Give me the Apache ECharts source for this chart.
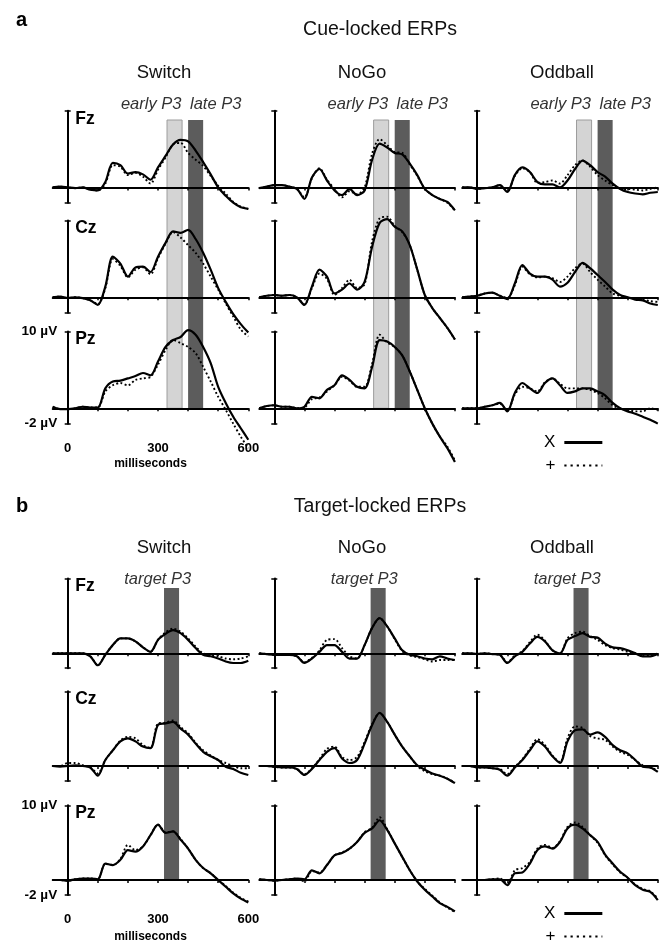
<!DOCTYPE html>
<html><head><meta charset="utf-8"><title>Cue- and target-locked ERPs</title>
<script src="https://cdn.jsdelivr.net/npm/echarts@6.0.0/dist/echarts.min.js"></script>
<style>html,body{margin:0;padding:0;background:#fff;}#chart{width:667px;height:944px;}</style>
</head><body><div id="chart"></div>
<script>
// ---------------- data ----------------
const times = [-50,-25,0,25,50,75,100,125,150,175,200,225,250,275,300,325,350,375,400,425,450,475,500,525,550,575,600];

// Cue-locked (X = solid, Plus = dotted), values in µV
const cueSwitchFzX    = [0,0.1,0,-0.1,0,-0.3,-0.4,0.7,3.2,2.9,1.8,2.0,1.7,1.0,2.6,4.1,5.6,6.2,6.0,4.8,3.3,1.7,0.0,-1.1,-2.0,-2.6,-2.8];
const cueSwitchFzPlus = [0,0.1,0,-0.1,0,-0.3,-0.4,0.5,2.9,2.7,1.6,1.9,1.4,0.5,2.3,3.9,5.6,5.8,4.5,3.6,2.8,1.5,0.2,-0.8,-1.9,-2.5,-2.8];
const cueSwitchCzX    = [0,0.1,-0.1,0,-0.1,-0.4,-1.0,1.4,5.3,4.4,2.7,3.9,4.0,3.3,5.3,7.1,8.6,8.4,8.8,7.6,5.8,3.6,1.2,-0.6,-2.2,-3.5,-4.6];
const cueSwitchCzPlus = [0,0.1,-0.1,0,-0.1,-0.4,-0.9,1.2,5.0,4.1,2.6,3.6,3.9,3.0,5.1,7.0,8.5,7.8,6.8,5.8,4.4,2.7,1.0,-0.8,-2.5,-4.2,-5.1];
const cueSwitchPzX    = [0.2,-0.1,-0.1,0,0.2,0.1,0.1,2.6,3.5,3.6,3.9,4.2,4.6,4.3,6.1,8.0,8.9,9.3,10.2,9.6,8.0,5.9,2.8,0.7,-1.1,-2.6,-4.1];
const cueSwitchPzPlus = [0.2,-0.1,-0.1,0,0.2,0.1,0.1,2.2,3.0,3.3,3.0,3.7,3.9,4.1,5.7,7.6,8.9,8.5,8.0,7.2,5.4,3.5,1.5,-0.2,-2.0,-3.7,-5.2];

const cueNoGoFzX    = [-0.1,0.1,0.3,0.3,0.1,-0.2,-1.5,1.3,2.4,0.9,-0.4,-1.0,-0.2,-1.0,-0.4,3.6,5.7,5.2,4.5,4.3,3.1,1.6,-0.2,-1.0,-1.5,-1.9,-3.0];
const cueNoGoFzPlus = [-0.1,0.1,0.3,0.3,0.1,-0.2,-1.3,1.2,2.5,1.0,-0.2,-1.3,-0.5,-0.9,0.0,4.4,6.3,5.5,4.6,4.5,3.0,1.5,-0.2,-1.0,-1.5,-2.0,-3.0];
const cueNoGoCzX    = [0,0.2,0.3,0.2,0.3,0,-1.0,1.4,3.6,2.7,0.5,1.0,1.8,1.0,2.0,6.6,9.7,10.2,9.2,8.6,6.8,3.6,0.3,-1.4,-2.7,-4.0,-5.5];
const cueNoGoCzPlus = [0,0.2,0.3,0.2,0.3,0,-0.9,1.2,3.1,2.4,0.3,1.2,2.3,1.2,1.7,7.3,10.3,10.5,9.3,8.5,6.8,3.6,0.3,-1.4,-2.7,-4.0,-5.5];
const cueNoGoPzX    = [0,0.3,0.4,0.2,0.2,0,0.2,1.5,1.3,2.4,3.0,4.3,3.7,2.8,2.6,5.4,8.9,8.7,8.0,6.9,4.8,2.4,0.0,-2.0,-3.7,-5.2,-7.0];
const cueNoGoPzPlus = [0,0.3,0.4,0.2,0.2,0,0.1,1.2,1.4,2.2,3.0,4.1,3.6,2.8,2.8,5.8,9.6,8.6,8.0,6.9,4.8,2.4,0.0,-2.0,-3.7,-5.0,-6.8];

const cueOddballFzX    = [0,0,-0.2,-0.1,0,0.3,-0.6,1.6,2.6,2.0,0.7,0.4,0.4,0,0.9,2.4,3.5,2.9,2.0,1.4,0.5,-0.2,-0.6,-0.8,-0.9,-0.7,-0.6];
const cueOddballFzPlus = [0,0,-0.2,-0.1,0,0.3,-0.5,1.5,2.5,2.0,0.6,0.7,0.9,0.5,1.6,2.9,3.5,2.7,1.6,0.9,0.3,-0.2,-0.2,-0.3,-0.4,-0.2,0];
const cueOddballCzX    = [0,0.1,0.2,0.5,0.6,0.2,-0.2,1.8,4.2,3.1,2.7,2.7,2.3,1.4,1.9,3.3,4.5,3.8,2.9,2.0,1.0,0.3,0,-0.3,-0.4,-0.8,-1.0];
const cueOddballCzPlus = [0,0.1,0.2,0.5,0.6,0.2,-0.1,1.6,4.0,3.0,2.6,2.7,2.5,2.0,2.7,3.8,4.4,3.3,2.3,1.4,0.5,0.2,0,-0.2,-0.3,-0.5,-0.6];
const cueOddballPzX    = [0,0,0,0.2,0.4,0.7,-0.4,2.0,3.3,2.6,2.0,3.3,3.9,3.0,2.0,2.2,2.6,2.6,2.2,1.7,0.7,0,-0.4,-0.7,-1.1,-1.5,-2.0];
const cueOddballPzPlus = [0,0,0,0.2,0.4,0.6,-0.3,1.8,2.8,2.6,2.2,3.4,3.9,3.2,2.6,2.6,2.6,2.4,2.0,1.3,0.4,0,-0.2,-0.4,-0.4,0,-0.2];

// Target-locked
const tgtSwitchFzX    = [0,0,0,0,0,-0.4,-1.6,-0.2,1.1,2.0,2.0,1.6,0.8,0.2,1.8,2.6,3.1,2.7,1.8,0.7,-0.2,-0.4,-0.7,-1.1,-1.3,-1.3,-1.0];
const tgtSwitchFzPlus = [0,0,0,0,0,-0.4,-1.6,-0.2,1.1,2.0,2.0,1.6,0.8,0.2,1.8,2.8,3.3,2.9,2.0,0.9,0,-0.2,-0.4,-0.7,-0.8,-0.7,-0.4];
const tgtSwitchCzX    = [0,-0.1,0,0.1,0,-0.2,-1.3,0.8,2.1,3.3,3.7,3.3,2.6,2.4,5.5,5.7,5.9,5.0,4.2,3.0,1.9,1.3,0.8,-0.1,-0.4,-0.9,-1.2];
const tgtSwitchCzPlus = [0,0,0.4,0.4,0.1,-0.2,-1.0,0.8,2.1,3.4,3.9,3.7,2.8,2.4,5.7,5.8,6.1,5.2,4.4,3.1,2.1,1.4,0.8,0.4,0,-0.3,-0.3];
const tgtSwitchPzX    = [0,0,-0.1,0.1,0.2,0.2,0.1,2.2,2.0,2.7,4.0,3.8,4.5,6.0,7.4,6.3,6.5,5.4,4.2,2.7,1.6,0.9,0,-0.9,-1.8,-2.5,-3.0];
const tgtSwitchPzPlus = [0,0,-0.1,0.1,0.2,0.2,0.1,2.2,2.0,2.8,4.7,4.0,4.5,6.0,7.4,6.4,6.5,5.5,4.2,2.7,1.6,0.9,0,-0.8,-1.7,-2.4,-2.9];

const tgtNoGoFzX    = [0,-0.1,-0.2,-0.2,-0.2,-0.4,-1.3,-0.7,0.2,1.1,1.1,0.2,-0.7,-0.7,1.1,3.4,4.7,3.6,2.0,0.4,-0.2,-0.4,-0.7,-0.8,-0.4,-0.7,-0.9];
const tgtNoGoFzPlus = [0,-0.1,-0.2,-0.2,-0.2,-0.4,-1.2,-0.6,0.4,1.8,1.9,0.7,-0.4,-0.7,1.1,3.4,4.7,3.6,1.9,0.3,-0.3,-0.5,-0.8,-1.1,-0.9,-0.9,-0.9];
const tgtNoGoCzX    = [0,0,-0.1,-0.2,-0.2,-0.4,-1.2,-0.4,0.8,1.9,2.4,1.0,0.4,0.8,3.0,5.5,7.1,5.9,4.2,2.6,1.3,0.1,-0.5,-1.0,-1.3,-1.7,-2.3];
const tgtNoGoCzPlus = [0,0,-0.1,-0.2,-0.2,-0.4,-1.1,-0.3,0.9,2.3,2.6,1.2,0.8,1.2,3.2,5.6,7.1,5.9,4.2,2.6,1.3,0.0,-0.7,-1.1,-1.3,-1.7,-2.2];
const tgtNoGoPzX    = [0.1,0,-0.1,0,0.1,0.2,0.1,1.3,0.9,2.0,3.3,3.6,4.2,5.1,6.3,6.9,8.0,6.7,4.9,3.1,1.3,-0.2,-1.3,-2.2,-3.1,-3.6,-4.2];
const tgtNoGoPzPlus = [0.1,0,-0.1,0,0.1,0.2,-0.2,1.2,1.0,2.0,3.3,3.7,4.2,5.1,6.4,7.0,8.4,6.8,4.9,3.1,1.3,-0.2,-1.2,-2.1,-3.0,-3.7,-4.3];

const tgtOddballFzX    = [0,0,-0.1,0,-0.1,-0.2,-1.3,-0.4,0.2,1.3,2.2,1.6,0.4,0,1.8,2.3,2.7,2.2,2.1,1.3,0.8,0.7,0.4,0,-0.4,-0.4,-0.1];
const tgtOddballFzPlus = [0,0,-0.1,0,-0.1,-0.2,-1.2,-0.3,0.3,1.5,2.5,1.7,0.4,0,2.0,2.7,2.9,2.3,1.8,1.1,0.7,0.5,0.2,0,-0.2,-0.3,0];
const tgtOddballCzX    = [0,0,-0.2,-0.2,-0.3,-0.5,-1.3,-0.2,0.8,2.1,3.3,2.6,1.3,0.4,3.3,4.8,4.9,4.2,4.5,3.9,2.8,2.1,1.7,0.8,-0.1,-0.2,-0.8];
const tgtOddballCzPlus = [0,0,-0.2,-0.2,-0.3,-0.4,-1.1,-0.1,0.9,2.3,3.6,2.8,1.4,0.5,3.7,5.3,5.1,4.0,3.7,3.5,2.6,1.9,1.5,0.8,0.1,-0.2,-0.6];
const tgtOddballPzX    = [0,0,0,0,0.1,0.1,-0.7,0.9,1.0,2.2,4.0,4.5,4.2,5.1,6.9,7.4,6.9,6.0,5.1,3.4,2.2,1.1,0.3,-0.7,-1.3,-1.6,-2.7];
const tgtOddballPzPlus = [0,0,0,0,0.1,0.2,-0.5,1.3,1.6,2.4,4.2,4.7,4.3,5.2,7.1,7.7,7.1,6.0,5.0,3.3,2.1,1.0,0.3,-0.6,-1.2,-1.5,-2.5];

// labels, windows, ticks
const sectionLetters = ['a', 'b'];
const sectionTitles = ['Cue-locked ERPs', 'Target-locked ERPs'];
const conditions = ['Switch', 'NoGo', 'Oddball'];
const electrodes = ['Fz', 'Cz', 'Pz'];
const seriesNames = ['X', '+'];
const cueWindows = [[330, 380], [400, 450]];
const cueWindowLabels = ['early P3', 'late P3'];
const targetWindows = [[320, 370]];
const targetWindowLabels = ['target P3'];
const xRange = [-50, 600];
const yRange = [-2, 10];
const xTickValues = [0, 100, 200, 300, 400, 500, 600];
const xTickLabels = [0, 300, 600];
const yTickValues = [-2, 10];
const xAxisName = 'milliseconds';

const sectionData = [
  [ // cue
    [[cueSwitchFzX, cueSwitchFzPlus], [cueSwitchCzX, cueSwitchCzPlus], [cueSwitchPzX, cueSwitchPzPlus]],
    [[cueNoGoFzX, cueNoGoFzPlus], [cueNoGoCzX, cueNoGoCzPlus], [cueNoGoPzX, cueNoGoPzPlus]],
    [[cueOddballFzX, cueOddballFzPlus], [cueOddballCzX, cueOddballCzPlus], [cueOddballPzX, cueOddballPzPlus]]
  ],
  [ // target
    [[tgtSwitchFzX, tgtSwitchFzPlus], [tgtSwitchCzX, tgtSwitchCzPlus], [tgtSwitchPzX, tgtSwitchPzPlus]],
    [[tgtNoGoFzX, tgtNoGoFzPlus], [tgtNoGoCzX, tgtNoGoCzPlus], [tgtNoGoPzX, tgtNoGoPzPlus]],
    [[tgtOddballFzX, tgtOddballFzPlus], [tgtOddballCzX, tgtOddballCzPlus], [tgtOddballPzX, tgtOddballPzPlus]]
  ]
];
const sectionWindows = [cueWindows, targetWindows];
const sectionWindowLabels = [cueWindowLabels, targetWindowLabels];

// ---------------- layout / style ----------------
const FONT = "'Liberation Sans', Arial, Helvetica, sans-serif";
const colAxisX = [67.7, 274.3, 477.2];
const pxPerMs = 0.301;
const condCenterX = [164, 362, 562];
const layout = [
  { zeroY: [187.4, 297.3, 408.3], pxPerUv: 7.67, bandTop: 120, letterY: 20, titleY: 30, condY: 73,
    winLabelY: 104, winLabelDx: [83.5, 148], legendTop: 434, xLabelMargin: 18, nameGap: 34.5,
    winStyles: [{ color: '#d4d4d4', borderColor: '#9c9c9c', borderWidth: 1 }, { color: '#5c5c5c' }] },
  { zeroY: [653.3, 766, 880], pxPerUv: 7.47, bandTop: 588, letterY: 506, titleY: 507, condY: 548,
    winLabelY: 579, winLabelDx: [90], legendTop: 905, xLabelMargin: 17.5, nameGap: 36,
    winStyles: [{ color: '#5c5c5c' }] }
];

function pairs(values) { return times.map((t, i) => [t, values[i]]); }
function txt(x, y, text, font, align, fill) {
  return { type: 'text', x: x, y: y, silent: true, z: 10,
    style: { text: text, font: font, fill: fill || '#000', align: align, verticalAlign: 'middle',
             textAlign: align, textVerticalAlign: 'middle' } };
}

const grids = [], xAxes = [], yAxes = [], series = [], graphics = [], legends = [];

sectionData.forEach((cols, s) => {
  const L = layout[s];
  graphics.push(txt(16, L.letterY, sectionLetters[s], 'bold 20px ' + FONT, 'left'));
  graphics.push(txt(380, L.titleY, sectionTitles[s], '19.5px ' + FONT, 'center', '#111'));

  cols.forEach((rows, c) => {
    const x0 = colAxisX[c];
    const left = x0 + xRange[0] * pxPerMs;
    const width = (xRange[1] - xRange[0]) * pxPerMs;
    graphics.push(txt(condCenterX[c], L.condY, conditions[c], '18.5px ' + FONT, 'center', '#111'));
    sectionWindowLabels[s].forEach((lab, k) => {
      graphics.push(txt(x0 + L.winLabelDx[k], L.winLabelY, lab, 'italic 16.5px ' + FONT, 'center', '#333'));
    });

    // shaded analysis windows spanning the three electrode rows
    const bg = grids.length;
    grids.push({ left: left, top: L.bandTop, width: width, height: L.zeroY[2] - L.bandTop, outerBoundsMode: 'none' });
    xAxes.push({ gridIndex: bg, type: 'value', min: xRange[0], max: xRange[1], show: false });
    const byi = yAxes.length;
    yAxes.push({ gridIndex: bg, type: 'value', min: 0, max: 1, show: false });
    series.push({
      type: 'line', xAxisIndex: bg, yAxisIndex: byi, silent: true, z: 1,
      data: [[xRange[0], 0], [xRange[1], 0]], symbol: 'none', lineStyle: { opacity: 0 },
      markArea: { silent: true, label: { show: false },
        data: sectionWindows[s].map((w, k) => [{ xAxis: w[0], itemStyle: L.winStyles[k] }, { xAxis: w[1] }]) }
    });

    rows.forEach((pair, r) => {
      const gi = grids.length;
      const top = L.zeroY[r] - yRange[1] * L.pxPerUv;
      const height = (yRange[1] - yRange[0]) * L.pxPerUv;
      grids.push({ left: left, top: top, width: width, height: height, outerBoundsMode: 'none' });
      const isLabelled = (c === 0 && r === 2);
      xAxes.push({
        gridIndex: gi, type: 'value', min: xRange[0], max: xRange[1], z: 3,
        axisLine: { onZero: true, lineStyle: { color: '#000', width: 1.8 } },
        axisTick: { show: true, customValues: xTickValues, length: 3, lineStyle: { color: '#000', width: 1.5 } },
        axisLabel: { show: isLabelled, customValues: xTickLabels, margin: L.xLabelMargin,
          color: '#000', fontWeight: 'bold', fontSize: 13, fontFamily: FONT },
        splitLine: { show: false },
        name: isLabelled ? xAxisName : '', nameLocation: 'middle', nameGap: L.nameGap,
        nameTextStyle: { color: '#000', fontWeight: 'bold', fontSize: 12, fontFamily: FONT }
      });
      const yi = yAxes.length;
      yAxes.push({
        gridIndex: gi, type: 'value', min: yRange[0], max: yRange[1], z: 3,
        axisLine: { show: true, onZero: true, onZeroAxisIndex: gi, lineStyle: { color: '#000', width: 2 } },
        axisTick: { show: true, customValues: yTickValues, length: 3, lineStyle: { color: '#000', width: 1.5 } },
        axisLabel: { show: isLabelled, customValues: yTickValues, margin: -4.5,
          formatter: v => v + ' \u00b5V', color: '#000', fontWeight: 'bold', fontSize: 13.5, fontFamily: FONT },
        splitLine: { show: false }
      });
      yAxes.push({
        gridIndex: gi, type: 'value', min: yRange[0], max: yRange[1], position: 'right', z: 3,
        axisLine: { show: false, onZero: true, onZeroAxisIndex: gi },
        axisTick: { show: true, customValues: yTickValues, length: 3, lineStyle: { color: '#000', width: 1.5 } },
        axisLabel: { show: false }, splitLine: { show: false }
      });
      if (c === 0) {
        graphics.push(txt(x0 + 7.5, L.zeroY[r] - yRange[1] * L.pxPerUv + 8, electrodes[r], 'bold 17.5px ' + FONT, 'left'));
      }
      series.push({
        name: seriesNames[1], type: 'line', xAxisIndex: gi, yAxisIndex: yi, data: pairs(pair[1]),
        symbol: 'none', smooth: 0.3, clip: false, silent: true, z: 4,
        lineStyle: { color: '#000', width: 1.9, type: [1.9, 2.4] }, itemStyle: { color: '#000' }
      });
      series.push({
        name: seriesNames[0], type: 'line', xAxisIndex: gi, yAxisIndex: yi, data: pairs(pair[0]),
        symbol: 'none', smooth: 0.3, clip: false, silent: true, z: 5,
        lineStyle: { color: '#000', width: 2.2 }, itemStyle: { color: '#000' }
      });
    });
  });

  legends.push({
    type: 'plain', orient: 'vertical', left: 544, top: L.legendTop, height: 60, align: 'right',
    data: [
      { name: seriesNames[0], lineStyle: { width: 3, type: 'solid' } },
      { name: seriesNames[1], lineStyle: { width: 2.2, type: [2.2, 4] } }
    ],
    itemWidth: 38, itemHeight: 14, itemGap: 6, selectedMode: false, padding: 0,
    itemStyle: { opacity: 0 },
    textStyle: { color: '#000', fontSize: 17, fontFamily: FONT, lineHeight: 14, padding: [0, 4, 0, 0] }
  });
});

const chart = echarts.init(document.getElementById('chart'), null, { renderer: 'canvas' });
chart.setOption({
  animation: false,
  backgroundColor: '#fff',
  grid: grids, xAxis: xAxes, yAxis: yAxes, series: series,
  legend: legends, graphic: graphics
});
</script></body></html>
